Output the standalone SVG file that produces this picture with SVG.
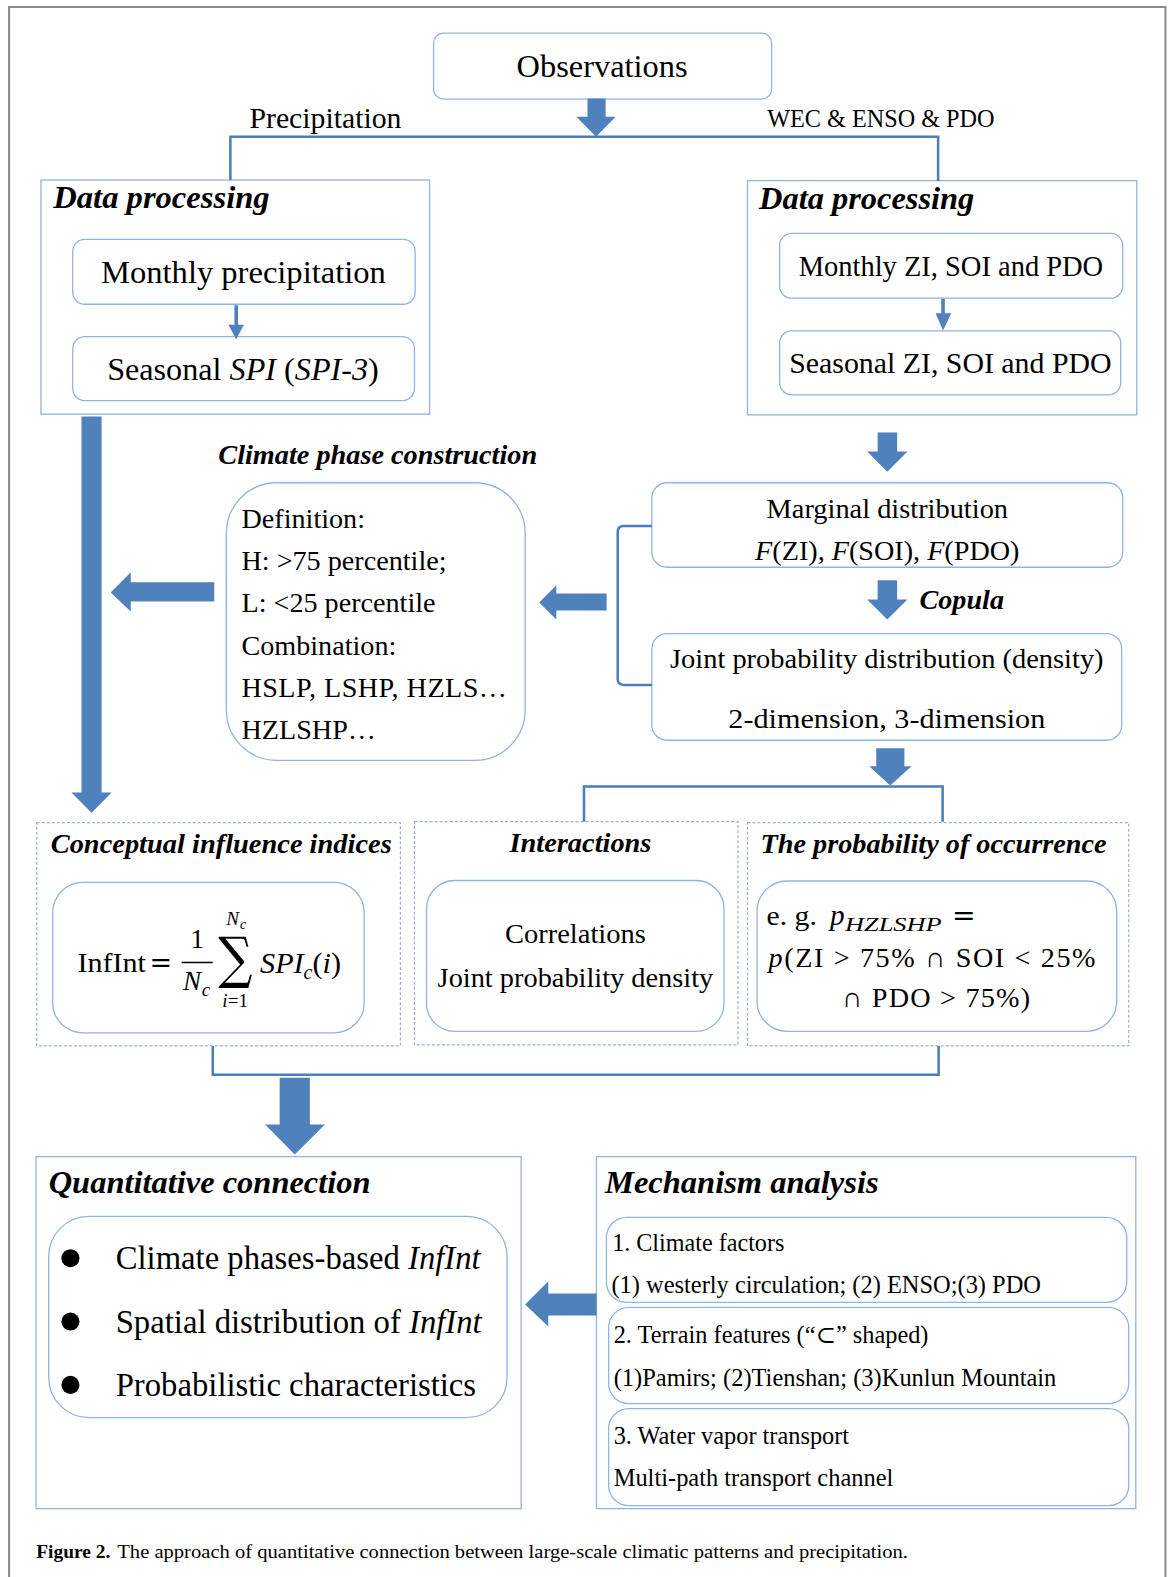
<svg xmlns="http://www.w3.org/2000/svg" width="1171" height="1577" viewBox="0 0 1171 1577">
<style>
  text { font-family: "Liberation Serif", "DejaVu Serif", serif; fill: #000; }
  .box { fill: #fff; stroke: #8EB4E3; stroke-width: 1.3; }
  .dash { fill: #fff; stroke: #8EB4E3; stroke-width: 1.2; stroke-dasharray: 3 2; }
  .conn { fill: none; stroke: #4A7EBB; stroke-width: 2.5; }
  .arrow { fill: #4F81BD; stroke: none; }
  .title { font-weight: bold; font-style: italic; }
  .it { font-style: italic; }
  .math { font-family: "DejaVu Serif", "Liberation Serif", serif; }
</style>
<rect x="0" y="0" width="1171" height="1577" fill="#fff"/>
<g transform="scale(1.00601,1.00574)">
  <path d="M9,1580 V7 H1158.5 V1580" fill="none" stroke="#8c8c8c" stroke-width="2"/>

  <g id="labels">
    <text x="248" y="127.5" font-size="29" textLength="151" lengthAdjust="spacingAndGlyphs">Precipitation</text>
    <text x="762.6" y="126" font-size="24" textLength="226" lengthAdjust="spacingAndGlyphs">WEC &amp; ENSO &amp; PDO</text>
    <text class="title" x="914" y="606" font-size="28" textLength="84" lengthAdjust="spacingAndGlyphs">Copula</text>
    <text class="title" x="217" y="461" font-size="27" textLength="317" lengthAdjust="spacingAndGlyphs">Climate phase construction</text>
  </g>

  <g id="observations">
    <rect class="box" x="431" y="33" width="336" height="65.5" rx="10"/>
    <text x="598.5" y="77" font-size="32" text-anchor="middle" textLength="170" lengthAdjust="spacingAndGlyphs">Observations</text>
  </g>

  <g id="data-processing-left">
    <rect class="box" x="40.7" y="179" width="386.3" height="232.8"/>
    <text class="title" x="53" y="207" font-size="31" textLength="215" lengthAdjust="spacingAndGlyphs">Data processing</text>
  </g>
  <g id="monthly-precipitation">
    <rect class="box" x="72.3" y="238" width="340.4" height="64.5" rx="12"/>
    <text x="242" y="281.6" font-size="32" text-anchor="middle" textLength="283" lengthAdjust="spacingAndGlyphs">Monthly precipitation</text>
  </g>
  <g id="seasonal-spi">
    <rect class="box" x="72.3" y="334.7" width="339.7" height="63.6" rx="12"/>
    <text x="106.5" y="377.7" font-size="32">Seasonal <tspan class="it">SPI</tspan> (<tspan class="it">SPI-3</tspan>)</text>
  </g>

  <g id="data-processing-right">
    <rect class="box" x="743" y="179.6" width="387" height="232.9"/>
    <text class="title" x="754.5" y="208" font-size="31" textLength="214" lengthAdjust="spacingAndGlyphs">Data processing</text>
  </g>
  <g id="monthly-zi">
    <rect class="box" x="775" y="232" width="341" height="64.5" rx="12"/>
    <text x="794" y="274" font-size="29" textLength="302.6" lengthAdjust="spacingAndGlyphs">Monthly ZI, SOI and PDO</text>
  </g>
  <g id="seasonal-zi">
    <rect class="box" x="775" y="329" width="339" height="63.6" rx="12"/>
    <text x="784.5" y="370.5" font-size="29" textLength="320.5" lengthAdjust="spacingAndGlyphs">Seasonal ZI, SOI and PDO</text>
  </g>

  <g id="marginal-distribution">
    <rect class="box" x="648" y="480" width="468" height="84" rx="15"/>
    <text x="882" y="515" font-size="28" text-anchor="middle" textLength="240" lengthAdjust="spacingAndGlyphs">Marginal distribution</text>
    <text x="882" y="557" font-size="28" text-anchor="middle"><tspan class="it">F</tspan>(ZI), <tspan class="it">F</tspan>(SOI), <tspan class="it">F</tspan>(PDO)</text>
  </g>
  <g id="joint-probability">
    <rect class="box" x="648" y="630" width="467" height="106" rx="15"/>
    <text x="881.5" y="664" font-size="27" text-anchor="middle" textLength="431" lengthAdjust="spacingAndGlyphs">Joint probability distribution (density)</text>
    <text x="881.5" y="724" font-size="27" text-anchor="middle" textLength="315" lengthAdjust="spacingAndGlyphs">2-dimension, 3-dimension</text>
  </g>

  <g id="climate-phase">
    <rect class="box" x="225" y="480" width="297" height="276" rx="50"/>
    <text x="240" y="525" font-size="28">Definition:</text>
    <text x="240" y="567" font-size="28">H: &gt;75 percentile;</text>
    <text x="240" y="609" font-size="28">L: &lt;25 percentile</text>
    <text x="240" y="651" font-size="28">Combination:</text>
    <text x="240" y="693" font-size="28" textLength="264" lengthAdjust="spacing">HSLP, LSHP, HZLS…</text>
    <text x="240" y="735" font-size="28">HZLSHP…</text>
  </g>

  <g id="conceptual-influence">
    <rect class="dash" x="36.5" y="818" width="361.5" height="222"/>
    <text class="title" x="50.4" y="848" font-size="27" textLength="339" lengthAdjust="spacingAndGlyphs">Conceptual influence indices</text>
    <rect class="box" x="52.4" y="877.4" width="309.6" height="149.6" rx="30"/>
    <text x="77" y="966" font-size="28" textLength="68" lengthAdjust="spacingAndGlyphs">InfInt</text>
    <text class="math" x="160" y="966" font-size="27" text-anchor="middle">=</text>
    <text x="196" y="943" font-size="27" text-anchor="middle">1</text>
    <line x1="180.6" y1="957" x2="211.4" y2="957" stroke="#000" stroke-width="1.5"/>
    <text class="it" x="182" y="984" font-size="27">N</text>
    <text class="it" x="200.5" y="990" font-size="19">c</text>
    <text class="math" transform="translate(234,971) scale(0.85,1)" x="0" y="0" font-size="56" text-anchor="middle">∑</text>
    <text class="it" x="225" y="920" font-size="19">N</text>
    <text class="it" x="238.5" y="924" font-size="14">c</text>
    <text x="221" y="1001" font-size="19"><tspan class="it">i</tspan>=1</text>
    <text x="258.5" y="967" font-size="30"><tspan class="it">SPI</tspan><tspan class="it" font-size="20" dy="6">c</tspan><tspan dy="-6">(</tspan><tspan class="it">i</tspan>)</text>
  </g>

  <g id="interactions">
    <rect class="dash" x="412" y="817" width="321.6" height="222"/>
    <text class="title" x="577" y="847" font-size="27" text-anchor="middle" textLength="141" lengthAdjust="spacingAndGlyphs">Interactions</text>
    <rect class="box" x="424" y="875.5" width="295.7" height="150" rx="28"/>
    <text x="572" y="938" font-size="27" text-anchor="middle" textLength="140" lengthAdjust="spacingAndGlyphs">Correlations</text>
    <text x="572" y="981" font-size="27" text-anchor="middle" textLength="274" lengthAdjust="spacingAndGlyphs">Joint probability density</text>
  </g>

  <g id="probability-occurrence">
    <rect class="dash" x="743" y="818" width="379" height="222"/>
    <text class="title" x="756" y="848" font-size="27" textLength="344" lengthAdjust="spacingAndGlyphs">The probability of occurrence</text>
    <rect class="box" x="752.5" y="876" width="357.5" height="149.5" rx="30"/>
    <text x="762" y="919.5" font-size="28" textLength="50" lengthAdjust="spacingAndGlyphs">e. g.</text>
    <text class="it" x="825" y="919.5" font-size="29">p</text>
    <text class="it" x="840" y="926" font-size="19" textLength="96" lengthAdjust="spacingAndGlyphs">HZLSHP</text>
    <text class="math" x="958" y="919.5" font-size="28" text-anchor="middle">=</text>
    <text x="764" y="961" font-size="28" textLength="325" lengthAdjust="spacing"><tspan class="it">p</tspan>(ZI &gt; 75% ∩ SOI &lt; 25%</text>
    <text x="837" y="1001" font-size="28" textLength="187" lengthAdjust="spacing">∩ PDO &gt; 75%)</text>
  </g>

  <g id="quantitative-connection">
    <rect class="box" x="35.8" y="1150" width="482.2" height="350"/>
    <text class="title" x="48.4" y="1186" font-size="32" textLength="320" lengthAdjust="spacingAndGlyphs">Quantitative connection</text>
    <rect class="box" x="48.4" y="1209.4" width="455.6" height="200.2" rx="40"/>
    <circle cx="70" cy="1251" r="9" fill="#000"/>
    <circle cx="70" cy="1314" r="9" fill="#000"/>
    <circle cx="70" cy="1377" r="9" fill="#000"/>
    <text x="115" y="1261.5" font-size="32.5">Climate phases-based <tspan class="it">InfInt</tspan></text>
    <text x="115" y="1325" font-size="32.5">Spatial distribution of <tspan class="it">InfInt</tspan></text>
    <text x="115" y="1388.4" font-size="32.5">Probabilistic characteristics</text>
  </g>

  <g id="mechanism-analysis">
    <rect class="box" x="592.9" y="1150" width="536.1" height="350"/>
    <text class="title" x="601.4" y="1186" font-size="32" textLength="272" lengthAdjust="spacingAndGlyphs">Mechanism analysis</text>
  </g>
  <g id="climate-factors">
    <rect class="box" x="602.8" y="1210.4" width="517.2" height="84.6" rx="20"/>
    <text x="608.5" y="1244" font-size="24">1. Climate factors</text>
    <text x="607.8" y="1286" font-size="24" textLength="427" lengthAdjust="spacingAndGlyphs">(1) westerly circulation; (2) ENSO;(3) PDO</text>
  </g>
  <g id="terrain-features">
    <rect class="box" x="605" y="1300" width="517" height="95.6" rx="20"/>
    <text x="610" y="1335" font-size="24.2">2. Terrain features (“⊂” shaped)</text>
    <text x="610" y="1378" font-size="24.2" textLength="440" lengthAdjust="spacingAndGlyphs">(1)Pamirs; (2)Tienshan; (3)Kunlun Mountain</text>
  </g>
  <g id="water-vapor">
    <rect class="box" x="605" y="1400.6" width="517" height="96.4" rx="20"/>
    <text x="610" y="1435.5" font-size="24.2">3. Water vapor transport</text>
    <text x="610" y="1478" font-size="24.2" textLength="278" lengthAdjust="spacingAndGlyphs">Multi-path transport channel</text>
  </g>

  <g id="connectors">
    <path class="conn" d="M229,179 V136 H932.5 V180"/>
    <polygon class="arrow" points="584,98 602,98 602,116 612,116 592.5,136 573,116 584,116"/>
    <rect class="arrow" x="233" y="303.5" width="3.6" height="20"/>
    <polygon class="arrow" points="227,323 242.4,323 234.8,337.3"/>
    <rect class="arrow" x="935.6" y="297" width="3.6" height="15"/>
    <polygon class="arrow" points="930,311.5 945.6,311.5 937.4,328.5"/>
    <polygon class="arrow" points="872.4,430 891.8,430 891.8,449 902,449 882,469 862,449 872.4,449"/>
    <polygon class="arrow" points="872.4,577 891.8,577 891.8,596 902,596 882,616 862,596 872.4,596"/>
    <path class="conn" d="M648,523 H620 Q614,523 614,529 V675 Q614,681 620,681 H648"/>
    <polygon class="arrow" points="603,590 553,590 553,582 536,599 553,616 553,607 603,607"/>
    <polygon class="arrow" points="213,579 130,579 130,569 110,589 130,608 130,598 213,598"/>
    <polygon class="arrow" points="81,414 101,414 101,788 111,788 91,808 71,788 81,788"/>
    <polygon class="arrow" points="871,744 899,744 899,762 906,762 885,781 864,762 871,762"/>
    <path class="conn" d="M580.5,817 V782 H937 V817"/>
    <path class="conn" d="M211.5,1040 V1068.6 H933 V1040"/>
    <polygon class="arrow" points="278,1071.6 308,1071.6 308,1118 323,1118 293,1148 263.5,1118 278,1118"/>
    <polygon class="arrow" points="593,1286 545,1286 545,1274 522,1297 545,1319 545,1308 593,1308"/>
  </g>

  <g id="caption">
    <text x="36" y="1549" font-size="19" font-weight="bold" textLength="73.6" lengthAdjust="spacingAndGlyphs">Figure 2.</text>
    <text x="116.6" y="1549" font-size="19" textLength="786" lengthAdjust="spacingAndGlyphs">The approach of quantitative connection between large-scale climatic patterns and precipitation.</text>
  </g>
</g>
</svg>
